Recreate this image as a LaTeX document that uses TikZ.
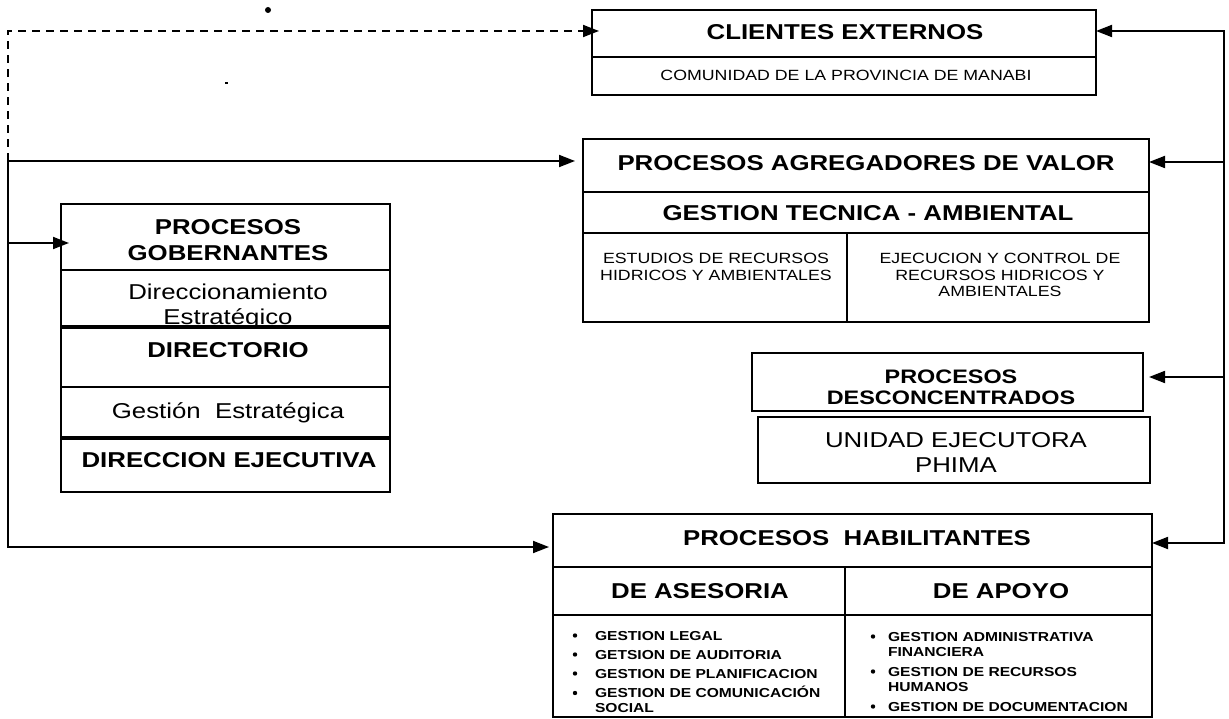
\documentclass[tikz,border=0pt]{standalone}
\usepackage{fontspec}
\setmainfont{Liberation Sans}[FakeStretch=1.2]
\usetikzlibrary{arrows.meta,calc}
\newcommand\fHB{\fontsize{21.5}{24}\selectfont\bfseries}
\newcommand\fHR{\fontsize{21.5}{24}\selectfont}
\newcommand\fSR{\fontsize{14.8}{17}\selectfont}
\newcommand\fDB{\fontsize{19.5}{22}\selectfont\bfseries}
\newcommand\fLB{\fontsize{13}{15}\selectfont\bfseries}
\tikzset{
  cell/.style={draw=black, line width=2.2pt, anchor=north west, inner sep=0pt, outer sep=0pt},
  lbl/.style={anchor=base, inner sep=0pt, outer sep=0pt},
  lblw/.style={anchor=base west, inner sep=0pt, outer sep=0pt},
  conn/.style={line width=1.8pt},
  arr/.style={line width=1.8pt, -{Triangle[length=16pt,width=12pt]}},
  dashconn/.style={line width=1.8pt, dash pattern=on 8pt off 6pt, -{Triangle[length=16pt,width=12pt]}},
  thickdiv/.style={line width=3.2pt},
}
\begin{document}
\begin{tikzpicture}[x=1pt,y=-1pt]
\useasboundingbox (0,0) rectangle (1229,719);

% ---------- CLIENTES EXTERNOS
\node[cell, minimum width=504, minimum height=47] (cliT) at (592,10) {};
\node[cell, minimum width=504, minimum height=38] (cliB) at (592,57) {};
\node[lbl, font=\fHB] (cliTt) at (845,40) {CLIENTES EXTERNOS};
\node[lbl, font=\fSR] (cliBt) at (846,81) {COMUNIDAD DE LA PROVINCIA DE MANABI};

% ---------- PROCESOS AGREGADORES DE VALOR
\node[cell, minimum width=566, minimum height=53] (agT) at (583,139) {};
\node[cell, minimum width=566, minimum height=41] (agG) at (583,192) {};
\node[cell, minimum width=264, minimum height=89] (agL) at (583,233) {};
\node[cell, minimum width=302, minimum height=89] (agR) at (847,233) {};
\node[lbl, font=\fHB] (agTt) at (866,171) {PROCESOS AGREGADORES DE VALOR};
\node[lbl, font=\fHB] (agGt) at (868,221) {GESTION TECNICA - AMBIENTAL};
\node[lbl, font=\fSR] (agL1) at (716,264) {ESTUDIOS DE RECURSOS};
\node[lbl, font=\fSR] (agL2) at (716,280.5) {HIDRICOS Y AMBIENTALES};
\node[lbl, font=\fSR] (agR1) at (1000,264) {EJECUCION Y CONTROL DE};
\node[lbl, font=\fSR] (agR2) at (1000,280.5) {RECURSOS HIDRICOS Y};
\node[lbl, font=\fSR] (agR3) at (1000,297) {AMBIENTALES};

% ---------- PROCESOS GOBERNANTES
\node[cell, minimum width=329, minimum height=66] (gobT) at (61,204) {};
\node[cell, minimum width=329, minimum height=57] (gobD) at (61,270) {};
\node[cell, minimum width=329, minimum height=60] (gobDir) at (61,327) {};
\node[cell, minimum width=329, minimum height=51] (gobG) at (61,387) {};
\node[cell, minimum width=329, minimum height=54] (gobE) at (61,438) {};
\node[lbl, font=\fHB] (gobT1) at (228,235) {PROCESOS};
\node[lbl, font=\fHB] (gobT2) at (228,261) {GOBERNANTES};
\begin{scope}
\clip (61,270) rectangle (390,326);
\node[lbl, font=\fHR] (gobD1) at (228,300) {Direccionamiento};
\node[lbl, font=\fHR] (gobD2) at (228,325) {Estratégico};
\end{scope}
\node[lbl, font=\fHB] (gobDirt) at (228,357) {DIRECTORIO};
\node[lbl, font=\fHR] (gobGt) at (228,418) {Gestión\ \ Estratégica};
\node[lbl, font=\fHB] (gobEt) at (229,467) {DIRECCION EJECUTIVA};
\draw[thickdiv] (gobDir.north west) -- (gobDir.north east);
\draw[thickdiv] (gobE.north west) -- (gobE.north east);

% ---------- PROCESOS DESCONCENTRADOS
\node[cell, minimum width=391, minimum height=58] (desc) at (752,353) {};
\node[lbl, font=\fDB] (desc1) at (951,383) {PROCESOS};
\node[lbl, font=\fDB] (desc2) at (951,404) {DESCONCENTRADOS};
\node[cell, minimum width=392, minimum height=66] (uni) at (758,417) {};
\node[lbl, font=\fHR] (uni1) at (956,447) {UNIDAD EJECUTORA};
\node[lbl, font=\fHR] (uni2) at (956,472) {PHIMA};

% ---------- PROCESOS HABILITANTES
\node[cell, minimum width=599, minimum height=53] (habT) at (553,514) {};
\node[cell, minimum width=292, minimum height=48] (habA) at (553,567) {};
\node[cell, minimum width=307, minimum height=48] (habP) at (845,567) {};
\node[cell, minimum width=292, minimum height=102] (habAL) at (553,615) {};
\node[cell, minimum width=307, minimum height=102] (habPL) at (845,615) {};
\node[lbl, font=\fHB] (habTt) at (857,545) {PROCESOS\ \ HABILITANTES};
\node[lbl, font=\fHB] (habAt) at (700,598) {DE ASESORIA};
\node[lbl, font=\fHB] (habPt) at (1001,598) {DE APOYO};

% left list
\fill (575,635.5) circle (2.2);
\fill (575,654.5) circle (2.2);
\fill (575,673.5) circle (2.2);
\fill (575,693) circle (2.2);
\node[lblw, font=\fLB] (la1) at (595,640) {GESTION LEGAL};
\node[lblw, font=\fLB] (la2) at (595,659) {GETSION DE AUDITORIA};
\node[lblw, font=\fLB] (la3) at (595,678) {GESTION DE PLANIFICACION};
\node[lblw, font=\fLB] (la4) at (595,697.5) {GESTION DE COMUNICACIÓN};
\node[lblw, font=\fLB] (la5) at (595,712) {SOCIAL};
% right list
\fill (873,636.5) circle (2.2);
\fill (873,671.5) circle (2.2);
\fill (873,706.5) circle (2.2);
\node[lblw, font=\fLB] (lp1) at (888,641) {GESTION ADMINISTRATIVA};
\node[lblw, font=\fLB] (lp2) at (888,656) {FINANCIERA};
\node[lblw, font=\fLB] (lp3) at (888,676) {GESTION DE RECURSOS};
\node[lblw, font=\fLB] (lp4) at (888,691) {HUMANOS};
\node[lblw, font=\fLB] (lp5) at (888,711) {GESTION DE DOCUMENTACION};

% ---------- specks
\fill (268,10) circle (3);
\fill (224.5,82.5) rectangle (227.5,84);

% ---------- connectors
\coordinate (lt) at (8,31);
\coordinate (lm) at (8,161);
\coordinate (lg) at (8,243);
\coordinate (lb) at (8,547);
\coordinate (rt) at (1224,31);
\coordinate (ra) at (1224,162);
\coordinate (rd) at (1224,377);
\coordinate (rb) at (1224,543);

\draw[dashconn, shorten >=-7pt] (lm) -- (lt) -- (lt -| cliT.west);
\draw[arr, shorten >=4pt] (lm) -- (lb) -- (lb -| habT.west);
\draw[arr, shorten >=8pt] (lm) -- (lm -| agT.west);
\draw[arr, shorten >=-8pt] (lg) -- (lg -| gobT.west);

\draw[arr] (rb) -- (rt) -- (rt -| cliT.east);
\draw[arr] (rt) -- (rb) -- (rb -| habT.east);
\draw[arr] (ra) -- (ra -| agT.east);
\draw[arr, shorten >=6pt] (rd) -- (rd -| desc.east);
\end{tikzpicture}
\end{document}
